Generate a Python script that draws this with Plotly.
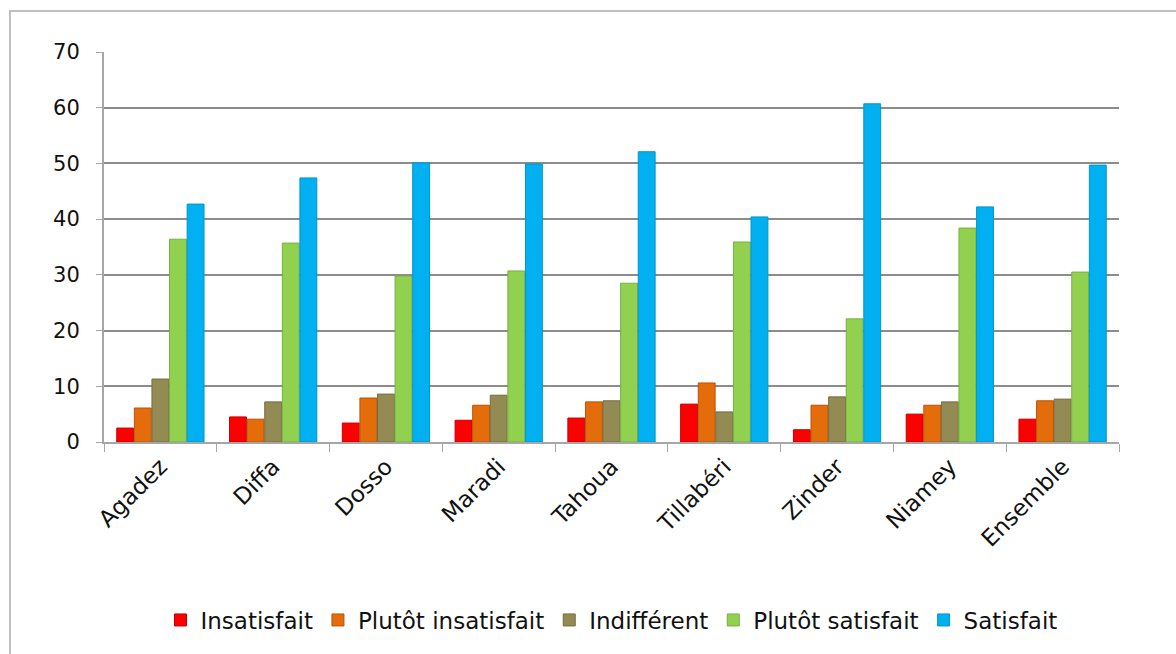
import plotly.graph_objects as go

categories = ["Agadez", "Diffa", "Dosso", "Maradi", "Tahoua", "Tillabéri", "Zinder", "Niamey", "Ensemble"]
insatisfait = [2.5, 4.5, 3.4, 3.9, 4.3, 6.8, 2.2, 5.0, 4.1]
plutot_insatisfait = [6.1, 4.1, 7.9, 6.6, 7.2, 10.6, 6.6, 6.6, 7.4]
indifferent = [11.3, 7.2, 8.6, 8.4, 7.4, 5.4, 8.1, 7.2, 7.7]
plutot_satisfait = [36.4, 35.7, 29.8, 30.7, 28.5, 35.9, 22.1, 38.4, 30.5]
satisfait = [42.7, 47.4, 50.1, 49.9, 52.1, 40.4, 60.7, 42.2, 49.7]

series_names = ["Insatisfait", "Plutôt insatisfait", "Indifférent", "Plutôt satisfait", "Satisfait"]
series_values = [insatisfait, plutot_insatisfait, indifferent, plutot_satisfait, satisfait]
colors = ["#FF0000", "#E46C0A", "#948A54", "#92D050", "#00B0F0"]
line_colors = ["#C00000", "#B45608", "#756D42", "#77B040", "#0096CC"]

fig = go.Figure()
for name, vals, c, lc in zip(series_names, series_values, colors, line_colors):
    fig.add_trace(go.Bar(
        x=categories, y=vals, name=name,
        marker=dict(color=c, line=dict(color=lc, width=1)),
    ))

font_family = "'DejaVu Sans', sans-serif"
fig.update_layout(
    width=1176, height=654,
    margin=dict(l=104, r=57, t=52, b=212, autoexpand=False),
    paper_bgcolor="white", plot_bgcolor="white",
    barmode="group", bargap=0.22, bargroupgap=0.04,
    font=dict(family=font_family, size=21, color="#111111"),
    showlegend=True,
    legend=dict(orientation="h", x=0.5, xanchor="center",
                yref="container", y=1 - 620 / 654, yanchor="middle",
                font=dict(size=23), itemwidth=30, traceorder="normal"),
    xaxis=dict(
        tickangle=-45, tickson="boundaries", ticks="outside", ticklen=8,
        tickcolor="#A6A6A6", tickwidth=1, automargin=False,
        showline=True, linecolor="#A6A6A6", linewidth=2,
        showgrid=False, tickfont=dict(size=23),
    ),
    yaxis=dict(
        range=[0, 70], dtick=10, ticks="outside", ticklen=6,
        tickcolor="#A6A6A6", tickwidth=1, automargin=False,
        ticklabelstandoff=12,
        showline=True, linecolor="#A6A6A6", linewidth=2,
        showgrid=True, gridcolor="#8C8C8C", gridwidth=2,
        zeroline=False, tickfont=dict(size=21),
    ),
    shapes=[dict(type="rect", xref="paper", yref="paper",
                 x0=(10 - 104) / 1015, x1=1.1, y0=-0.6, y1=(442 - 11) / 390,
                 line=dict(color="#BFBFBF", width=2), fillcolor="rgba(0,0,0,0)", layer="below")],
)

fig.write_html("out.html")
